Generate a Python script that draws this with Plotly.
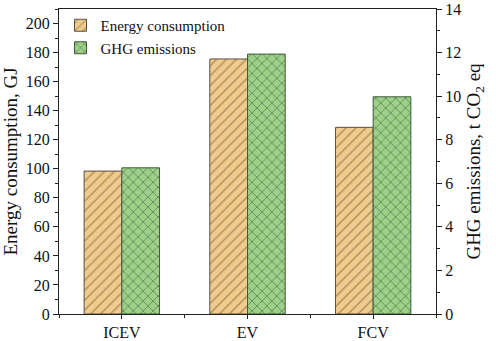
import plotly.graph_objects as go

categories = ["ICEV", "EV", "FCV"]
energy_gj = [98.4, 175.6, 128.5]
ghg_t = [6.71, 11.93, 9.97]
series_names = ["Energy consumption", "GHG emissions"]

xpos = list(range(len(categories)))
FONT = "Liberation Serif, Times New Roman, serif"

fig = go.Figure()
fig.add_trace(go.Bar(
    x=xpos, y=energy_gj, name=series_names[0], yaxis="y",
    width=0.3, offset=-0.3,
    marker=dict(color="#F0CB8E", line=dict(color="#5a5045", width=1),
                pattern=dict(shape="/", fgcolor="#6e5026", bgcolor="#F0CB8E",
                             size=7, solidity=0.2, fillmode="overlay")),
))
fig.add_trace(go.Bar(
    x=xpos, y=ghg_t, name=series_names[1], yaxis="y2",
    width=0.3, offset=0.0,
    marker=dict(color="#9FD08A", line=dict(color="#3f5a3a", width=1),
                pattern=dict(shape="x", fgcolor="#28502a", bgcolor="#9FD08A",
                             size=7, solidity=0.25, fillmode="overlay")),
))

axis_common = dict(
    showline=True, linecolor="#222", linewidth=1.3,
    ticks="outside", ticklen=5, tickwidth=1.2, tickcolor="#222",
    tickfont=dict(family=FONT, size=16, color="#111"),
    showgrid=False, zeroline=False, automargin=False,
)

fig.update_layout(
    width=496, height=341,
    margin=dict(l=59, r=60, t=9, b=27),
    paper_bgcolor="white", plot_bgcolor="white",
    font=dict(family=FONT, color="#111"),
    barmode="overlay",
    showlegend=True,
    legend=dict(x=0.004, y=1.0, xanchor="left", yanchor="top",
                bgcolor="rgba(0,0,0,0)", font=dict(family=FONT, size=15, color="#111"),
                tracegroupgap=0, itemwidth=30),
    xaxis=dict(axis_common, range=[-0.5, 2.5], tickvals=xpos, ticktext=categories,
               mirror=True, ticklen=4,
               minor=dict(dtick=0.5, tick0=0.5, ticks="outside", ticklen=3, tickcolor="#222")),
    yaxis=dict(axis_common, range=[0, 210], dtick=20, tick0=0,
               minor=dict(dtick=10, ticks="outside", ticklen=3, tickcolor="#222"),
               title=dict(text="Energy consumption, GJ", font=dict(family=FONT, size=19, color="#111"),
                          standoff=6)),
    yaxis2=dict(axis_common, overlaying="y", side="right", range=[0, 14], dtick=2, tick0=0,
                minor=dict(dtick=1, ticks="outside", ticklen=3, tickcolor="#222"),
                title=dict(text="GHG emissions, t CO<sub>2</sub> eq",
                           font=dict(family=FONT, size=19, color="#111"), standoff=6)),
)

fig.write_html("out.html")
